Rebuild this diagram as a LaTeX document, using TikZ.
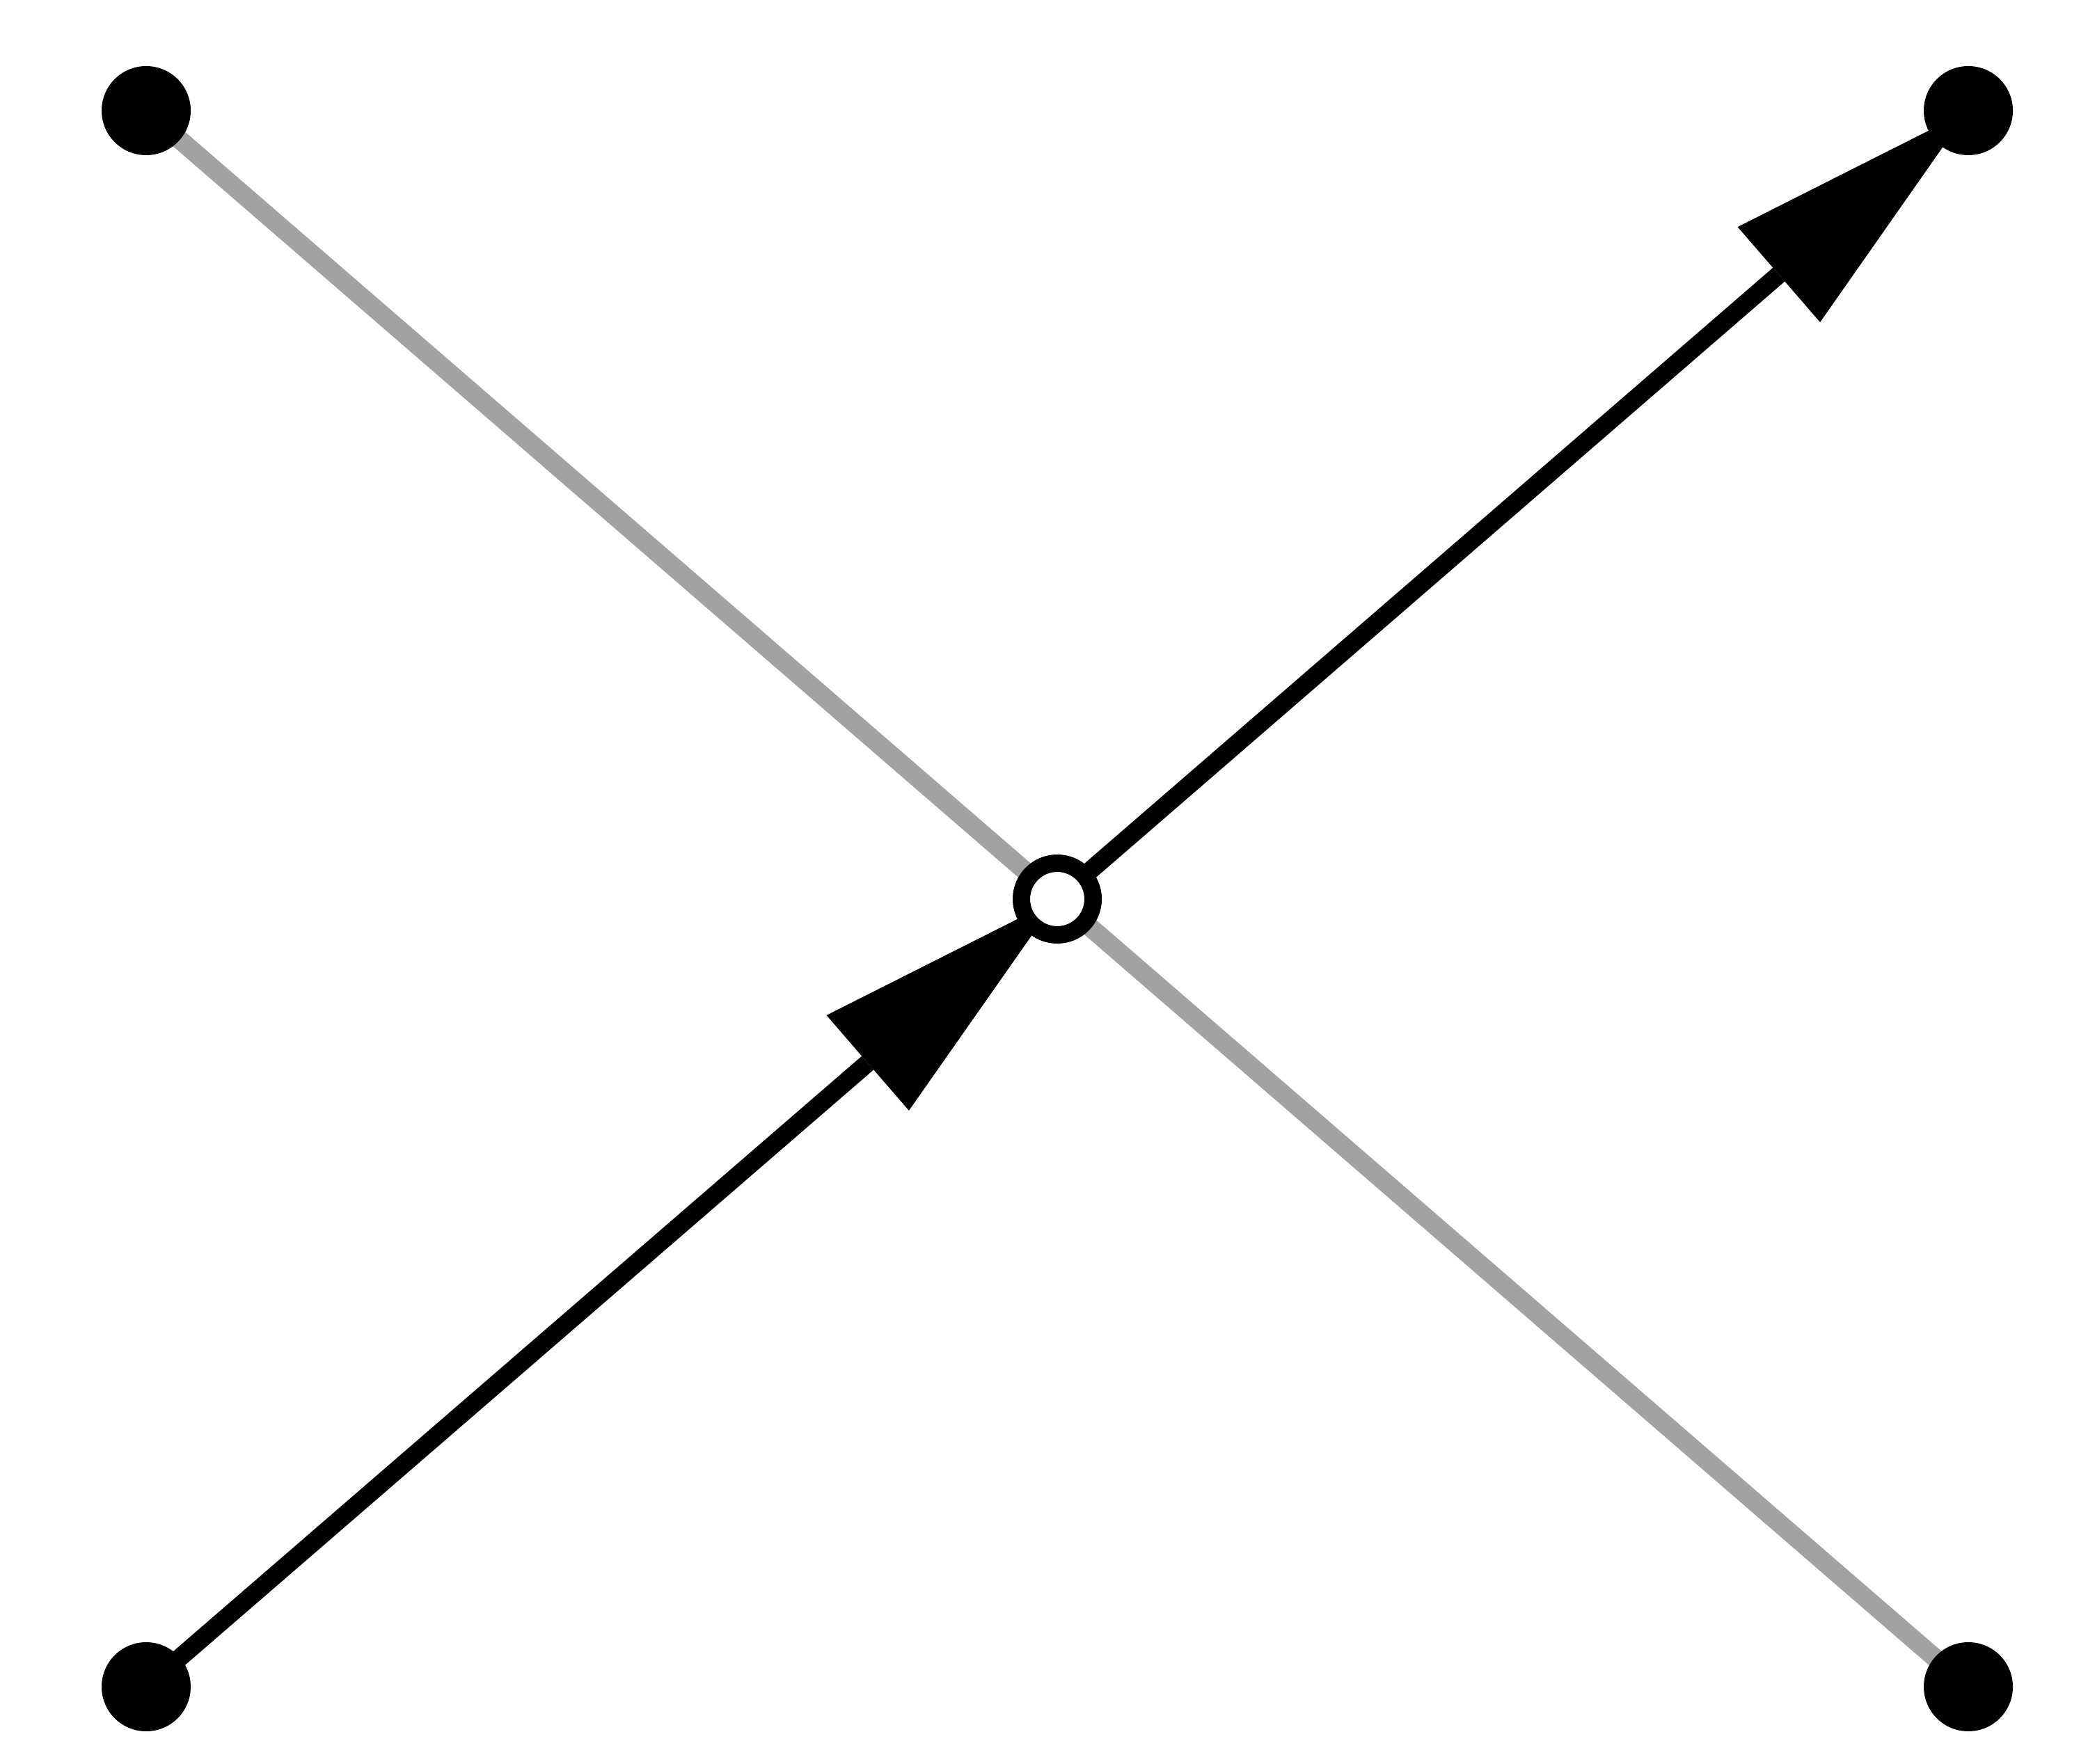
\documentclass[tikz,border=0pt]{standalone}
\usetikzlibrary{arrows.meta,backgrounds}
\definecolor{linegray}{RGB}{162,162,162}
\tikzset{
  dotnode/.style={circle,fill=black,inner sep=0pt,minimum size=1.28cm},
  ringnode/.style={circle,draw=black,fill=white,line width=0.25cm,inner sep=0pt,minimum size=1.03cm},
  grayline/.style={draw=linegray,line width=0.27cm},
  blackarrow/.style={draw=black,line width=0.26cm,-{Triangle[length=3.6cm,width=1.81cm,line width=0pt]}}
}
\begin{document}
\begin{tikzpicture}
\useasboundingbox (0,0) rectangle (30,25.34);
\node[dotnode] (tl) at (2.10,23.75) {};
\node[dotnode] (tr) at (28.28,23.75) {};
\node[dotnode] (bl) at (2.10,1.10) {};
\node[dotnode] (br) at (28.28,1.10) {};
\node[ringnode] (c) at (15.19,12.42) {};
\begin{scope}[on background layer]
  \draw[grayline] (tl.center) -- (br.center);
  \draw[blackarrow] (bl.center) -- (c.center);
  \draw[blackarrow] (c.center) -- (tr.center);
\end{scope}
\end{tikzpicture}
\end{document}
